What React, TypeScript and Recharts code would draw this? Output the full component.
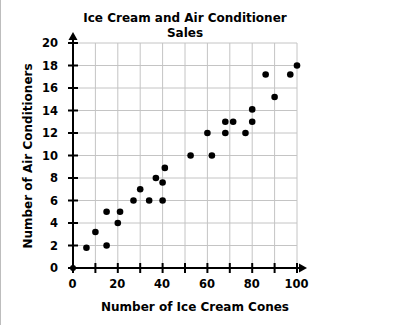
import React from 'react'
import {
  ScatterChart, Scatter, XAxis, YAxis, CartesianGrid, ReferenceDot, Label
} from 'recharts'

// ice cream cones sold vs air conditioners sold
const coneCounts = [6, 10, 15, 15, 20, 21, 27, 30, 34, 37, 40, 40, 41, 52.5, 60, 62, 68, 68, 71.5, 77, 80, 80, 86, 90, 97, 100]
const acCounts = [1.8, 3.2, 5, 2, 4, 5, 6, 7, 6, 8, 7.6, 6, 8.9, 10, 12, 10, 12, 13, 13, 12, 13, 14.1, 17.2, 15.2, 17.2, 18]

const xTicks = [0, 10, 20, 30, 40, 50, 60, 70, 80, 90, 100]
const xTickLabels = ['0', '', '20', '', '40', '', '60', '', '80', '', '100']
const yTicks = [0, 2, 4, 6, 8, 10, 12, 14, 16, 18, 20]

const points = coneCounts.map((x, i) => ({ x, y: acCounts[i] }))

const FONT = '"DejaVu Sans", Verdana, sans-serif'

const XTick = (props: any) => {
  const { x, y, index } = props
  return (
    <g>
      <line x1={x} x2={x} y1={y - 5} y2={y + 5} stroke="#000" strokeWidth={2} />
      <text x={x - 0.5} y={y + 20} textAnchor="middle" fontSize={11.5} fontWeight="bold" fontFamily={FONT} fill="#000">
        {xTickLabels[index]}
      </text>
    </g>
  )
}

const YTick = (props: any) => {
  const { x, y, payload } = props
  return (
    <g>
      <line x1={x - 5} x2={x + 5} y1={y} y2={y} stroke="#000" strokeWidth={2} />
      <text x={x - 15} y={y + 4} textAnchor="end" fontSize={11.5} fontWeight="bold" fontFamily={FONT} fill="#000">
        {payload.value}
      </text>
    </g>
  )
}

const Dot = (props: any) => <circle cx={props.cx} cy={props.cy} r={3.3} fill="#000" />

const XArrow = (props: any) => {
  const { cx, cy } = props
  return (
    <g>
      <line x1={cx} x2={cx + 4} y1={cy} y2={cy} stroke="#000" strokeWidth={2} />
      <path d={`M${cx + 10},${cy} L${cx + 2},${cy - 4.5} L${cx + 2},${cy + 4.5} Z`} fill="#000" />
    </g>
  )
}

const YArrow = (props: any) => {
  const { cx, cy } = props
  return (
    <g>
      <line x1={cx} x2={cx} y1={cy} y2={cy - 4} stroke="#000" strokeWidth={2} />
      <path d={`M${cx},${cy - 11} L${cx - 4.5},${cy - 3} L${cx + 4.5},${cy - 3} Z`} fill="#000" />
    </g>
  )
}

const Origin = (props: any) => <circle cx={props.cx} cy={props.cy} r={3} fill="#000" />

const renderTitle = (props: any) => {
  const vb = props.viewBox
  const cx = vb.x + vb.width / 2
  return (
    <text textAnchor="middle" fontSize={12} fontWeight="bold" fontFamily={FONT} fill="#000">
      <tspan x={cx} y={22}>Ice Cream and Air Conditioner</tspan>
      <tspan x={cx} y={37}>Sales</tspan>
    </text>
  )
}

const renderXTitle = (props: any) => {
  const vb = props.viewBox
  return (
    <text x={vb.x + vb.width / 2 + 10} y={vb.y + 43} textAnchor="middle" fontSize={12} fontWeight="bold" fontFamily={FONT} fill="#000">
      Number of Ice Cream Cones
    </text>
  )
}

const renderYTitle = (props: any) => {
  const vb = props.viewBox
  const cx = 28
  const cy = vb.y + vb.height / 2 + 0.5
  return (
    <text x={cx} y={cy} transform={`rotate(-90, ${cx}, ${cy})`} textAnchor="middle" dominantBaseline="central" fontSize={12} fontWeight="bold" fontFamily={FONT} fill="#000">
      Number of Air Conditioners
    </text>
  )
}

export default function App() {
  return (
    <div style={{ position: 'absolute', left: 0, top: 0, width: 418, height: 325, background: '#fff', borderLeft: '1px solid #bdbdbd', boxSizing: 'border-box' }}>
      <ScatterChart width={417} height={325} margin={{ top: 43, right: 120, bottom: 0, left: 0 }} style={{ marginLeft: -1 }}>
        <CartesianGrid stroke="#c4c4c4" strokeWidth={1} />
        <XAxis
          type="number"
          dataKey="x"
          domain={[0, 100]}
          ticks={xTicks}
          interval={0}
          height={57}
          axisLine={{ stroke: '#000', strokeWidth: 2 }}
          tickLine={false}
          tickSize={0}
          tickMargin={0}
          tick={<XTick />}
        >
          <Label content={renderXTitle} />
          <Label content={renderTitle} />
        </XAxis>
        <YAxis
          type="number"
          dataKey="y"
          domain={[0, 20]}
          ticks={yTicks}
          interval={0}
          width={73}
          axisLine={{ stroke: '#000', strokeWidth: 2 }}
          tickLine={false}
          tickSize={0}
          tickMargin={0}
          tick={<YTick />}
        >
          <Label content={renderYTitle} />
        </YAxis>
        <Scatter data={points} shape={<Dot />} isAnimationActive={false} />
        <ReferenceDot x={100} y={0} r={0} shape={<XArrow />} ifOverflow="visible" />
        <ReferenceDot x={0} y={20} r={0} shape={<YArrow />} ifOverflow="visible" />
        <ReferenceDot x={0} y={0} r={3} shape={<Origin />} ifOverflow="visible" />
      </ScatterChart>
    </div>
  )
}
